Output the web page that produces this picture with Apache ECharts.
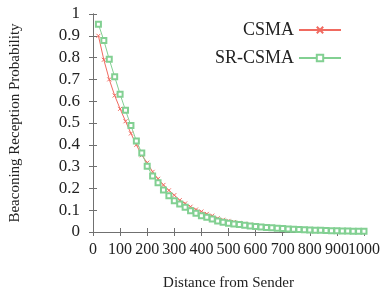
<!DOCTYPE html>
<html><head><meta charset="utf-8">
<script src="https://cdn.jsdelivr.net/npm/echarts@6/dist/echarts.min.js"></script>
<style>html,body{margin:0;padding:0;background:#fff}#c{width:383px;height:296px}</style>
</head><body><div id="c"></div>
<script>
const distances = [20,40,60,80,100,120,140,160,180,200,220,240,260,280,300,320,340,360,380,400,420,440,460,480,500,520,540,560,580,600,620,640,660,680,700,720,740,760,780,800,820,840,860,880,900,920,940,960,980,1000];
const csma = [0.90,0.79,0.70,0.626,0.565,0.508,0.452,0.40,0.352,0.318,0.276,0.244,0.216,0.191,0.169,0.146,0.131,0.116,0.103,0.094,0.083,0.075,0.063,0.056,0.051,0.046,0.042,0.038,0.034,0.031,0.028,0.025,0.023,0.021,0.019,0.017,0.015,0.014,0.012,0.011,0.010,0.009,0.008,0.008,0.007,0.006,0.006,0.005,0.005,0.005];
const srcsma = [0.953,0.879,0.792,0.712,0.632,0.558,0.488,0.418,0.362,0.302,0.257,0.226,0.193,0.166,0.143,0.128,0.113,0.098,0.086,0.075,0.068,0.060,0.050,0.045,0.040,0.037,0.034,0.031,0.028,0.025,0.023,0.021,0.019,0.017,0.016,0.014,0.013,0.012,0.010,0.009,0.008,0.008,0.007,0.006,0.006,0.005,0.005,0.004,0.004,0.004];
const xTicks = [0,100,200,300,400,500,600,700,800,900,1000];
const yTicks = [0,0.1,0.2,0.3,0.4,0.5,0.6,0.7,0.8,0.9,1];

const RED = '#f06a60', GREEN = '#82d092';
const FONT = 'Liberation Serif';
const axisCol = '#707070';
const xMin = xTicks[0], xMax = xTicks[xTicks.length-1];
const chart = echarts.init(document.getElementById('c'));
const pair = a => distances.map((d,i)=>[d,a[i]]);
const xBase = {type:'value',min:xMin,max:xMax,interval:100,
  splitLine:{show:false},axisLine:{lineStyle:{color:axisCol}},
  axisTick:{inside:true,length:4,lineStyle:{color:axisCol}}};
const yBase = {type:'value',min:yTicks[0],max:yTicks[yTicks.length-1],interval:0.1,
  splitLine:{show:false},axisLine:{lineStyle:{color:axisCol}},
  axisTick:{inside:true,length:4,lineStyle:{color:axisCol}}};
const xLabelStyle = {fontFamily:FONT,fontSize:16,color:'#222',margin:10,hideOverlap:false};
chart.setOption({
  animation:false,
  grid:{left:88,top:14,right:18,bottom:61,containLabel:false},
  legend:{orient:'vertical',right:36,top:16,align:'right',itemWidth:42,itemHeight:8,itemGap:10,
    textStyle:{fontFamily:FONT,fontSize:18,color:'#222'},
    data:['CSMA','SR-CSMA']},
  xAxis:[Object.assign({},xBase,{position:'bottom',name:'Distance from Sender',nameLocation:'middle',nameGap:44,
      nameTextStyle:{fontFamily:FONT,fontSize:15,color:'#222'},
      axisLabel:Object.assign({},xLabelStyle,{showMinLabel:true,showMaxLabel:false,formatter:v=>String(v)})}),
    Object.assign({},xBase,{position:'top',axisLabel:{show:false}}),
    Object.assign({},xBase,{position:'bottom',axisLine:{show:false},axisTick:{show:false},
      axisLabel:Object.assign({},xLabelStyle,{showMinLabel:false,showMaxLabel:true,
        formatter:v=>(v===xMax?String(v):'')})})],
  yAxis:[Object.assign({},yBase,{position:'left',name:'Beaconing Reception Probability',nameLocation:'middle',nameGap:70,
      nameTextStyle:{fontFamily:FONT,fontSize:15,color:'#222'},
      axisLabel:{fontFamily:FONT,fontSize:17,color:'#222',margin:13,
        formatter:v=>String(Math.round(v*10)/10)}}),
    Object.assign({},yBase,{position:'right',axisLabel:{show:false}})],
  series:[
    {name:'CSMA',type:'line',data:pair(csma),xAxisIndex:0,yAxisIndex:0,
      symbol:'path://M0 0L10 10M10 0L0 10',symbolSize:4,
      lineStyle:{color:RED,width:1},itemStyle:{color:RED,borderColor:RED,borderWidth:1}},
    {name:'SR-CSMA',type:'line',data:pair(srcsma),xAxisIndex:0,yAxisIndex:0,
      symbol:'emptyRect',symbolSize:5,
      lineStyle:{color:GREEN,width:1},itemStyle:{color:GREEN,borderColor:GREEN,borderWidth:1}}
  ]
});
</script></body></html>
